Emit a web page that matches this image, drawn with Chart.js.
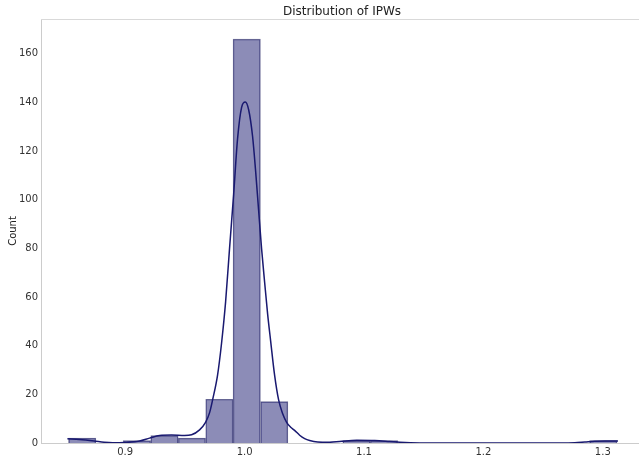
<!DOCTYPE html>
<html><head><meta charset="utf-8">
<script src="https://cdn.jsdelivr.net/npm/chart.js@4.4.1/dist/chart.umd.min.js"></script>
<style>html,body{margin:0;padding:0;background:#fff;}#wrap{width:639px;height:459px;}</style>
</head><body><div id="wrap"><canvas id="c" width="639" height="459"></canvas></div>
<script>
const chartTitle = 'Distribution of IPWs';
const yLabel = 'Count';
const binCenters = [0.8640, 0.8870, 0.9099, 0.9329, 0.9559, 0.9789, 1.0018, 1.0248, 1.0478, 1.0707,
                    1.0937, 1.1167, 1.1397, 1.1626, 1.1856, 1.2086, 1.2315, 1.2545, 1.2775, 1.3004];
const binCounts = [2, 0, 1, 3, 2, 18, 166, 17, 0, 0, 1, 1, 0, 0, 0, 0, 0, 0, 0, 1];
const kdeX = [0.8516, 0.8617, 0.8740, 0.8824, 0.8894, 0.8994, 0.9120, 0.9204, 0.9288, 0.9388,
              0.9497, 0.9556, 0.9623, 0.9673, 0.9707, 0.9732, 0.9774, 0.9807, 0.9841, 0.9874,
              0.9908, 0.9941, 0.9975, 1.0006, 1.0034, 1.0067, 1.0092, 1.0117, 1.0142, 1.0168,
              1.0193, 1.0218, 1.0251, 1.0285, 1.0319, 1.0352, 1.0386, 1.0419, 1.0461, 1.0503,
              1.0545, 1.0612, 1.0712, 1.0796, 1.0939, 1.1090, 1.1215, 1.1299, 1.1467, 1.2640,
              1.2766, 1.2850, 1.2934, 1.3018, 1.3127];
const kdeY = [1.7, 1.4, 0.8, 0.3, 0.1, 0.2, 0.8, 2.0, 3.1, 3.3,
              3.1, 3.4, 5.4, 8.5, 12.5, 17.7, 28, 41, 58, 80,
              102, 125, 138, 140.2, 137, 126, 112, 96, 80, 66,
              53, 42, 28, 17.7, 12, 8.5, 6.5, 5.2, 3.2, 1.8,
              1.0, 0.4, 0.3, 0.6, 1.1, 1.0, 0.6, 0.3, 0.05, 0.0,
              0.1, 0.4, 0.7, 0.8, 0.8];
const xTicks = [0.9, 1.0, 1.1, 1.2, 1.3];
const yTicks = [0, 20, 40, 60, 80, 100, 120, 140, 160];

Chart.defaults.font.family = 'DejaVu Sans';
Chart.defaults.color = '#333';

const titlePlugin = {
  id: 'mplTitle',
  afterDraw(chart) {
    const ctx = chart.ctx, a = chart.chartArea;
    ctx.save();
    ctx.strokeStyle = '#d9d9d9';
    ctx.lineWidth = 1;
    ctx.beginPath();
    ctx.moveTo(a.left, a.top + 0.5);
    ctx.lineTo(a.right, a.top + 0.5);
    ctx.stroke();
    ctx.fillStyle = '#222';
    ctx.font = '12px "DejaVu Sans"';
    ctx.textAlign = 'center';
    ctx.textBaseline = 'middle';
    ctx.fillText(chartTitle, 342, 12);
    ctx.restore();
  }
};

new Chart(document.getElementById('c'), {
  type: 'bar',
  data: {
    datasets: [
      {
        type: 'line',
        data: kdeX.map((x, i) => ({x: x, y: kdeY[i]})),
        borderColor: '#191970',
        borderWidth: 1.5,
        pointRadius: 0,
        cubicInterpolationMode: 'monotone',
        fill: false,
        order: 0
      },
      {
        type: 'bar',
        data: binCenters.map((x, i) => ({x: x, y: binCounts[i]})),
        backgroundColor: 'rgba(25,25,112,0.5)',
        borderColor: '#707099',
        borderWidth: 0.8,
        barPercentage: 1,
        categoryPercentage: 1,
        grouped: false,
        order: 1
      }
    ]
  },
  options: {
    responsive: false,
    devicePixelRatio: 1,
    animation: false,
    layout: {padding: {top: 19, left: 0, right: 0, bottom: 0}},
    plugins: {legend: {display: false}, tooltip: {enabled: false}, title: {display: false}},
    scales: {
      x: {
        type: 'linear',
        offset: false,
        min: 0.8295,
        max: 1.3303,
        grid: {display: false, drawTicks: false, offset: false},
        border: {display: true, color: '#cccccc', width: 1},
        afterBuildTicks: s => { s.ticks = xTicks.map(v => ({value: v})); },
        afterFit: s => { s.height = 16; },
        ticks: {font: {size: 10}, color: '#333', padding: 3, maxRotation: 0,
                callback: v => Number(v).toFixed(1)}
      },
      y: {
        min: 0,
        max: 174.3,
        grid: {display: false, drawTicks: false},
        border: {display: true, color: '#cccccc', width: 1},
        afterBuildTicks: s => { s.ticks = yTicks.map(v => ({value: v})); },
        afterFit: s => { s.width = 41; },
        ticks: {font: {size: 10}, color: '#333', padding: 3},
        title: {display: true, text: yLabel, font: {size: 10}, color: '#222', padding: {top: 7, bottom: 0}}
      }
    }
  },
  plugins: [titlePlugin]
});
</script>
</body></html>
